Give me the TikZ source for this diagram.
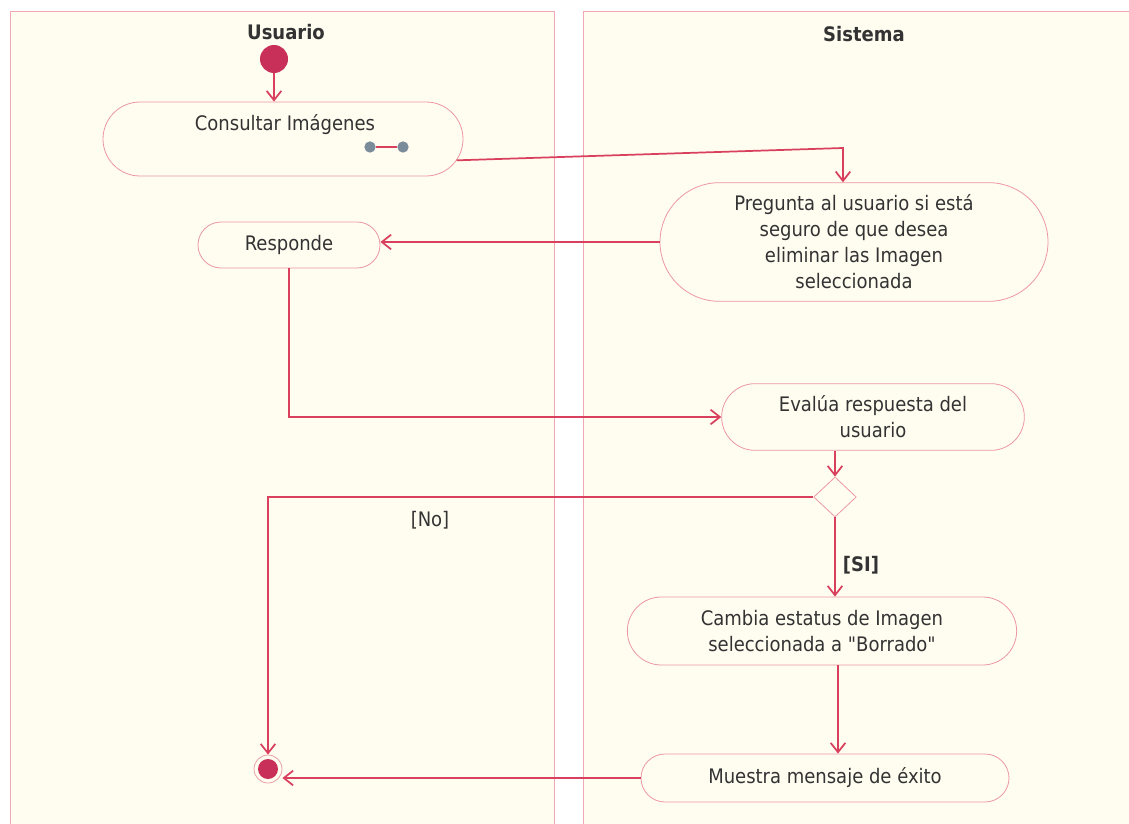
\documentclass[tikz,border=0pt]{standalone}
\usepackage{fontspec}
\setmainfont{DejaVu Sans Condensed}
\usetikzlibrary{shapes.misc,shapes.geometric,arrows.meta}
\definecolor{lanefill}{HTML}{FFFDF0}
\definecolor{laneborder}{HTML}{F2A8B6}
\definecolor{nodefill}{HTML}{FFFCF0}
\definecolor{nodeborder}{HTML}{EC98A4}
\definecolor{flowc}{HTML}{D8405E}
\definecolor{startc}{HTML}{C8305A}
\definecolor{ringc}{HTML}{E8A0A8}
\definecolor{txt}{HTML}{333333}
\definecolor{rakec}{HTML}{7A8C9A}
\begin{document}
\begin{tikzpicture}[x=0.75pt,y=-0.75pt,
  lane/.style={draw=laneborder, fill=lanefill, line width=0.6pt},
  act/.style={rounded rectangle, draw=nodeborder, fill=nodefill, line width=0.6pt,
    inner sep=0pt, align=center, text=txt, font=\fontsize{15}{19.5}\selectfont},
  lbl/.style={inner sep=0pt, text=txt, font=\fontsize{15}{19.5}\selectfont},
  title/.style={inner sep=0pt, text=txt, font=\fontsize{15}{19.5}\selectfont\bfseries},
  startnode/.style={circle, fill=startc, minimum size=21pt, inner sep=0pt},
  endnode/.style={circle, draw=ringc, line width=0.6pt, fill=nodefill, minimum size=21pt, inner sep=0pt,
    path picture={\fill[startc] (path picture bounding box.center) circle (7.5pt);}},
  dec/.style={diamond, draw=nodeborder, fill=nodefill, line width=0.6pt, minimum width=32pt, minimum height=30pt, inner sep=0pt},
  rake/.style={circle, fill=rakec, minimum size=8.5pt, inner sep=0pt},
  flow/.style={draw=flowc, line width=1.3pt, -{Straight Barb[length=7pt,width=11pt]}}
]
\fill[white] (0,0) rectangle (1129,824);
\useasboundingbox (0,0) rectangle (1129,824);
\clip (0,0) rectangle (1129,824);
\filldraw[lane] (10,11) rectangle (554,840);
\filldraw[lane] (583,11) rectangle (1140,840);

\node[title] (tusuario) at (286,32) {Usuario};
\node[title] (tsistema) at (864,34) {Sistema};

\node[startnode] (start) at (274,59) {};
\node[act, minimum width=270pt, minimum height=55.5pt] (consultar) at (283,139) {};
\node[lbl] (tconsultar) at (285,125) {Consultar Imágenes};
\node[rake] (r1) at (370,147) {};
\node[rake] (r2) at (403,147) {};
\draw[draw=flowc, line width=0.8pt] (r1) -- (r2);

\node[act, minimum width=291pt, minimum height=89pt] (pregunta) at (854,242)
  {Pregunta al usuario si está\\seguro de que desea\\eliminar las Imagen\\seleccionada};
\node[act, minimum width=136.5pt, minimum height=34.5pt] (responde) at (289,245) {Responde};
\node[act, minimum width=227pt, minimum height=50pt] (evalua) at (873,417) {Evalúa respuesta del\\usuario};
\node[dec] (dec) at (835,497) {};
\node[act, minimum width=292pt, minimum height=51pt] (cambia) at (822,631)
  {Cambia estatus de Imagen\\seleccionada a \textquotedbl Borrado\textquotedbl};
\node[act, minimum width=276pt, minimum height=36pt] (muestra) at (825,778) {Muestra mensaje de éxito};
\node[endnode] (final) at (268,769) {};

\node[lbl] (no) at (430,520) {[No]};
\node[title] (si) at (861,565) {[SI]};

\coordinate (c1) at (843,148);
\draw[flow] (start) -- (start |- consultar.north);
\draw[flow] (consultar.-7) -- (c1) -- (c1 |- pregunta.north);
\draw[flow] (pregunta.west) -- (pregunta.west -| responde.east);
\draw[flow] (responde.south) |- (evalua.west);
\draw[flow] (dec |- evalua.south) -- (dec.north);
\draw[flow] (dec.west) -| (final.north);
\draw[flow] (dec.south) -- (dec.south |- cambia.north);
\draw[flow] ([xshift=12pt]cambia.south) -- ([xshift=12pt]cambia.south |- muestra.north);
\draw[flow] (muestra.west) -- (muestra.west -| final.east);
\end{tikzpicture}
\end{document}
